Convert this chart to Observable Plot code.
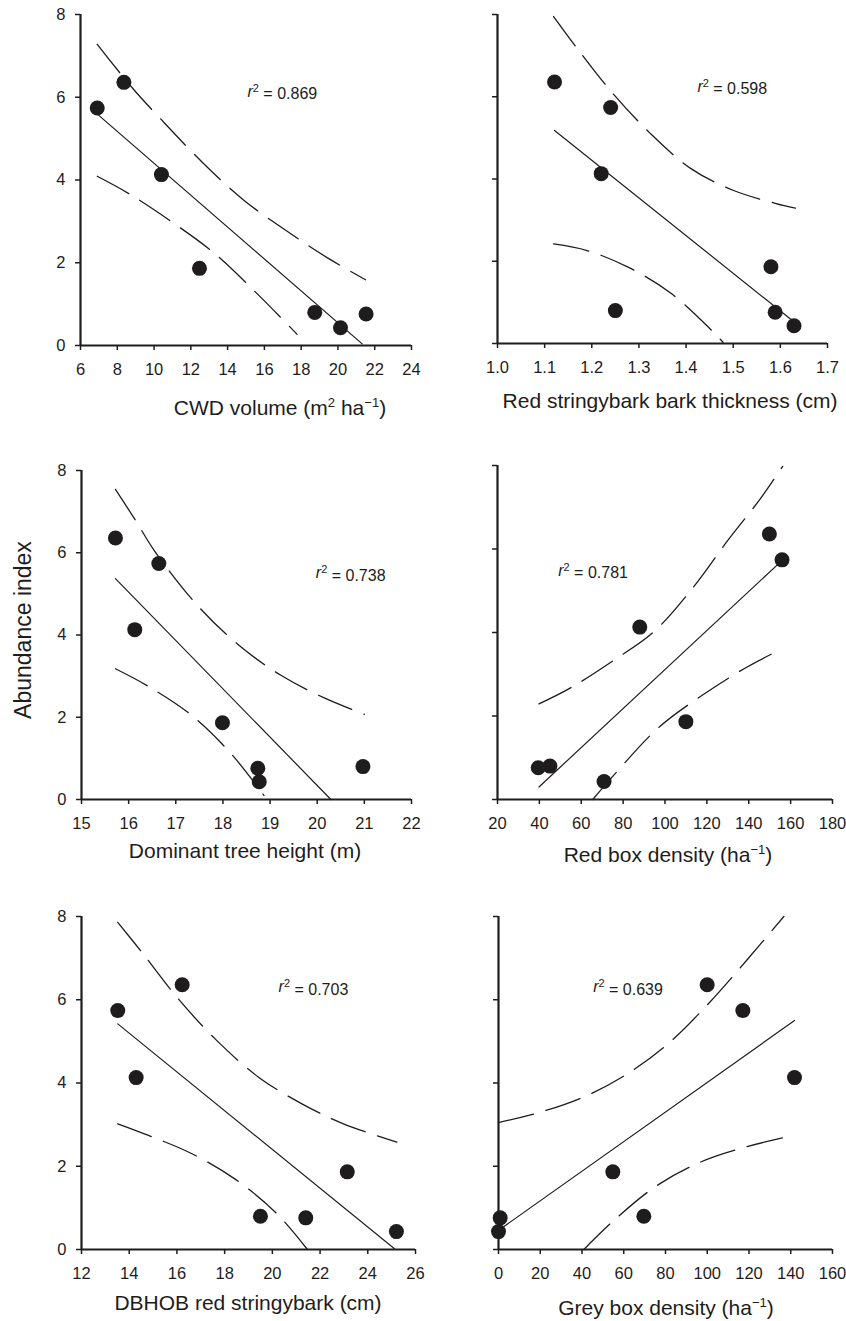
<!DOCTYPE html>
<html>
<head>
<meta charset="utf-8">
<script src="https://cdn.jsdelivr.net/npm/d3@7"></script>
<script src="https://cdn.jsdelivr.net/npm/@observablehq/plot@0.6"></script>
<style>
  body { margin: 0; background: #fff; }
  #fig { position: relative; width: 846px; height: 1321px; overflow: hidden;
         font-family: "Liberation Sans", Arial, Helvetica, sans-serif; color: #1e1c1c; background: #fff; }
  #fig svg { position: absolute; }
  .xlabel { position: absolute; font-size: 21px; line-height: 1; white-space: nowrap; transform: translateX(-50%); }
  .xlabel sup { font-size: 0.62em; vertical-align: baseline; position: relative; top: -0.62em; }
  .ylabel { position: absolute; font-size: 23px; line-height: 1; white-space: nowrap;
            transform: translate(-50%, -50%) rotate(-90deg); }
</style>
</head>
<body>
<div id="fig"></div>
<script>
// ---- Data ----
// Abundance index of the 7 sites (same in every panel)
const abundance = [5.74, 6.36, 4.13, 1.865, 0.80, 0.43, 0.76];

// Predictor values per site
const cwdVolume      = [6.91, 8.36, 10.40, 12.47, 18.74, 20.14, 21.53];
const barkThickness  = [1.24, 1.121, 1.22, 1.58, 1.25, 1.629, 1.589];
const treeHeight     = [16.64, 15.72, 16.13, 17.99, 20.97, 18.77, 18.74];
const redBoxDensity  = [155.9, 149.85, 87.95, 109.97, 45.04, 70.89, 39.46];
const dbhob          = [13.52, 16.22, 14.29, 23.14, 19.50, 25.20, 21.40];
const greyBoxDensity = [117.05, 99.96, 141.8, 54.77, 69.62, 0, 0.8];

// Regression lines (end points)
const cwdFitX = [6.87, 21.32],  cwdFitY = [5.61, 0.04];
const barkFitX = [1.121, 1.624], barkFitY = [5.18, 0.57];
const heightFitX = [15.72, 20.29], heightFitY = [5.37, 0.0];
const redFitX = [39.8, 154.3], redFitY = [0.30, 5.65];
const dbhFitX = [13.52, 25.12], dbhFitY = [5.42, 0.02];
const greyFitX = [0, 141.8], greyFitY = [0.46, 5.50];

// Confidence curves (upper / lower)
const cwdUpX = [6.91, 8.81, 10.35, 12.62, 14.88, 17.24, 19.50, 21.50];
const cwdUpY = [7.28, 6.23, 5.48, 4.43, 3.51, 2.76, 2.10, 1.59];
const cwdLoX = [6.91, 8.63, 10.89, 13.25, 15.52, 17.78];
const cwdLoY = [4.09, 3.67, 3.01, 2.24, 1.29, 0.27];

const barkUpX = [1.119, 1.170, 1.241, 1.324, 1.412, 1.501, 1.589, 1.632];
const barkUpY = [7.95, 7.16, 6.13, 5.11, 4.24, 3.72, 3.41, 3.29];
const barkLoX = [1.119, 1.190, 1.278, 1.368, 1.455, 1.479];
const barkLoY = [2.42, 2.26, 1.85, 1.22, 0.31, 0.02];

const heightUpX = [15.72, 16.15, 16.54, 17.46, 18.34, 19.23, 20.15, 21.00];
const heightUpY = [7.54, 6.78, 6.06, 4.72, 3.75, 3.02, 2.47, 2.07];
const heightLoX = [15.72, 16.39, 17.31, 18.16, 18.87];
const heightLoY = [3.18, 2.77, 2.07, 1.13, 0.10];

const redUpX = [39.8, 55.1, 75.4, 94.5, 113.6, 129.9, 145.5, 156.2];
const redUpY = [2.29, 2.68, 3.33, 4.01, 5.09, 6.20, 7.20, 7.98];
const redLoX = [65.5, 76.2, 96.9, 117.6, 138.4, 155.9];
const redLoY = [0.0, 0.62, 1.72, 2.49, 3.15, 3.61];

const dbhUpX = [13.52, 14.60, 16.00, 17.60, 19.42, 21.24, 22.98, 25.22];
const dbhUpY = [7.86, 7.09, 6.06, 5.06, 4.14, 3.50, 3.02, 2.58];
const dbhLoX = [13.52, 14.81, 16.63, 18.44, 20.19, 21.47];
const dbhLoY = [3.02, 2.74, 2.30, 1.69, 0.86, 0.0];

const greyUpX = [0, 20.1, 40.6, 60.5, 81.6, 101.2, 119.1, 136.7];
const greyUpY = [3.05, 3.30, 3.66, 4.18, 4.96, 5.94, 6.96, 8.0];
const greyLoX = [40.9, 55.3, 76.0, 96.8, 117.5, 137.5];
const greyLoY = [0.0, 0.70, 1.54, 2.10, 2.45, 2.70];

// r² values
const r2Values = ["0.869", "0.598", "0.738", "0.781", "0.703", "0.639"];

// Axis ticks
const yTicks = [0, 2, 4, 6, 8];
const cwdTicks = [6, 8, 10, 12, 14, 16, 18, 20, 22, 24];
const barkTicks = [1.0, 1.1, 1.2, 1.3, 1.4, 1.5, 1.6, 1.7];
const heightTicks = [15, 16, 17, 18, 19, 20, 21, 22];
const redTicks = [20, 40, 60, 80, 100, 120, 140, 160, 180];
const dbhTicks = [12, 14, 16, 18, 20, 22, 24, 26];
const greyTicks = [0, 20, 40, 60, 80, 100, 120, 140, 160];

const xLabels = [
  "CWD volume (m<sup>2</sup> ha<sup>−1</sup>)",
  "Red stringybark bark thickness (cm)",
  "Dominant tree height (m)",
  "Red box density (ha<sup>−1</sup>)",
  "DBHOB red stringybark (cm)",
  "Grey box density (ha<sup>−1</sup>)"
];
const yLabel = "Abundance index";

// ---- Build tables ----
const zip = (xs, ys) => xs.map((x, i) => ({x, y: ys[i]}));

const panels = [
  {xs: cwdVolume, fit: zip(cwdFitX, cwdFitY), up: zip(cwdUpX, cwdUpY), lo: zip(cwdLoX, cwdLoY),
   r2: r2Values[0], r2pos: [15.08, 6.13], domain: [6, 24], ticks: cwdTicks, fmt: d => d,
   label: xLabels[0], box: [80, 14, 331, 331], showY: true, lab: [280, 415]},
  {xs: barkThickness, fit: zip(barkFitX, barkFitY), up: zip(barkUpX, barkUpY), lo: zip(barkLoX, barkLoY),
   r2: r2Values[1], r2pos: [1.424, 6.25], domain: [1.0, 1.7], ticks: barkTicks, fmt: d3.format(".1f"),
   label: xLabels[1], box: [497, 14, 330, 329], showY: false, lab: [670, 408]},
  {xs: treeHeight, fit: zip(heightFitX, heightFitY), up: zip(heightUpX, heightUpY), lo: zip(heightLoX, heightLoY),
   r2: r2Values[2], r2pos: [19.97, 5.50], domain: [15, 22], ticks: heightTicks, fmt: d => d,
   label: xLabels[2], box: [81, 470, 330, 329], showY: true, lab: [245, 858]},
  {xs: redBoxDensity, fit: zip(redFitX, redFitY), up: zip(redUpX, redUpY), lo: zip(redLoX, redLoY),
   r2: r2Values[3], r2pos: [49.0, 5.48], domain: [20, 180], ticks: redTicks, fmt: d => d,
   label: xLabels[3], box: [497, 465, 335, 334], showY: false, lab: [668, 862]},
  {xs: dbhob, fit: zip(dbhFitX, dbhFitY), up: zip(dbhUpX, dbhUpY), lo: zip(dbhLoX, dbhLoY),
   r2: r2Values[4], r2pos: [20.26, 6.30], domain: [12, 26], ticks: dbhTicks, fmt: d => d,
   label: xLabels[4], box: [81, 916, 334, 333], showY: true, lab: [248, 1310]},
  {xs: greyBoxDensity, fit: zip(greyFitX, greyFitY), up: zip(greyUpX, greyUpY), lo: zip(greyLoX, greyLoY),
   r2: r2Values[5], r2pos: [45.35, 6.30], domain: [0, 160], ticks: greyTicks, fmt: d => d,
   label: xLabels[5], box: [498, 916, 334, 333], showY: false, lab: [666, 1315]}
];

const fig = document.getElementById("fig");
const ink = "#1e1c1c";
const ml = 50, mr = 24, mt = 12, mb = 40;

panels.forEach(p => {
  const [left, top, w, h] = p.box;
  const pts = p.xs.map((x, i) => ({x, y: abundance[i]}));
  const svg = Plot.plot({
    width: ml + w + mr, height: mt + h + mb,
    marginLeft: ml, marginRight: mr, marginTop: mt, marginBottom: mb,
    x: {domain: p.domain},
    y: {domain: [0, 8]},
    style: {fontFamily: '"Liberation Sans", Arial, Helvetica, sans-serif', fontSize: "16px",
            color: ink, background: "transparent", overflow: "visible"},
    marks: [
      Plot.axisX({ticks: p.ticks, tickFormat: p.fmt, tickSize: 5, tickPadding: 13,
                  strokeWidth: 1.5, label: null, fontSize: 16.5}),
      Plot.axisY({ticks: yTicks, tickFormat: p.showY ? (d => d) : (() => ""), tickSize: 5,
                  tickPadding: 10, strokeWidth: 1.5, label: null, fontSize: 16.5}),
      Plot.ruleY([0], {strokeWidth: 2.2}),
      Plot.ruleX([p.domain[0]], {strokeWidth: 2.2}),
      Plot.line(p.up, {x: "x", y: "y", curve: "catmull-rom", strokeWidth: 1.3, strokeDasharray: "36 13"}),
      Plot.line(p.lo, {x: "x", y: "y", curve: "catmull-rom", strokeWidth: 1.3, strokeDasharray: "36 13"}),
      Plot.line(p.fit, {x: "x", y: "y", strokeWidth: 1.2}),
      Plot.dot(pts, {x: "x", y: "y", r: 7.5, fill: "currentColor"}),
      Plot.text([p], {x: d => d.r2pos[0], y: d => d.r2pos[1], text: d => "r2 = " + d.r2,
                      textAnchor: "start", fontSize: 16})
    ]
  });
  svg.style.left = (left - ml) + "px";
  svg.style.top = (top - mt) + "px";
  // r² with italic r and superscript 2
  d3.select(svg).selectAll('g[aria-label="text"] text').each(function () {
    const t = d3.select(this);
    t.text(null);
    t.append("tspan").attr("font-style", "italic").text("r");
    t.append("tspan").attr("font-size", 11).attr("dy", "-0.45em").text("2");
    t.append("tspan").attr("dy", "0.45em").text(" = " + p.r2);
  });
  fig.appendChild(svg);

  const lab = document.createElement("div");
  lab.className = "xlabel";
  lab.innerHTML = p.label;
  lab.style.left = p.lab[0] + "px";
  lab.style.top = (p.lab[1] - 18) + "px";
  fig.appendChild(lab);
});

const yl = document.createElement("div");
yl.className = "ylabel";
yl.textContent = yLabel;
yl.style.left = "23px";
yl.style.top = "630px";
fig.appendChild(yl);
</script>
</body>
</html>
